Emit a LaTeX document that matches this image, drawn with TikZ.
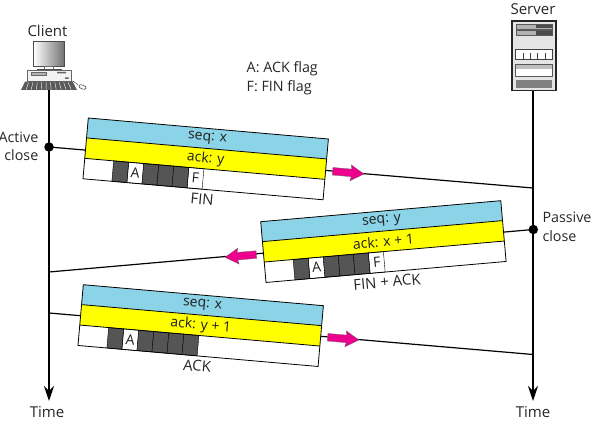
\documentclass[tikz,border=0pt]{standalone}
\usepackage{fontspec}
\setmainfont{Open Sans}
\definecolor{segblue}{HTML}{8BD3E6}
\definecolor{segyellow}{HTML}{FFFF00}
\definecolor{cellgrey}{HTML}{555555}
\definecolor{pinkarrow}{HTML}{EC008C}
\usetikzlibrary{arrows.meta}
\tikzset{
  lbl/.style={inner sep=0pt,font=\fontsize{14.3}{16}\selectfont,text=black!85},
  biglbl/.style={inner sep=0pt,font=\fontsize{15}{17}\selectfont,text=black!85},
  seglbl/.style={inner sep=0pt,font=\fontsize{14}{16}\selectfont,text=black!88,transform shape},
  namelbl/.style={inner sep=0pt,font=\fontsize{15}{17}\selectfont,text=black!85,transform shape},
  conn/.style={line width=1.2pt,black},
  timeline/.style={line width=1.6pt,black,-{Stealth[length=15pt,width=10pt,inset=5pt]}},
  joint/.style={circle,fill=black,inner sep=0pt,minimum size=9.5pt},
  pinkshape/.style={fill=pinkarrow,draw=black!60,line width=.3pt},
}
% x y angle seq ack name cells
\newcommand{\segbox}[7]{%
  \begin{scope}[shift={(#1,#2)},rotate=#3]
    \fill[white] (0,0) rectangle (241,61);
    \fill[segblue] (0,0) rectangle (241,20);
    \fill[segyellow] (0,20) rectangle (241,40.5);
    \foreach \c [count=\i from 0] in {#7}{
      \pgfmathsetmacro{\cx}{29+15.1*\i}
      \if\c g
        \fill[cellgrey] (\cx,40.5) rectangle ++(15.1,20.5);
        \draw[black,line width=.4pt] (\cx,40.5) rectangle ++(15.1,20.5);
      \else
        \draw[black,line width=.4pt] (\cx,40.5) rectangle ++(15.1,20.5);
        \node[seglbl] at (\cx+7.5,50.5) {\c};
      \fi
    }
    \draw[line width=.8pt] (0,0) rectangle (241,61);
    \draw[line width=.8pt] (0,20) -- (241,20) (0,40.5) -- (241,40.5);
    \node[seglbl] at (120.5,10) {#4};
    \node[seglbl] at (120.5,30.5) {#5};
    \node[namelbl] at (120.5,71) {#6};
  \end{scope}}
\newcommand{\pinkarrow}[3]{%
  \begin{scope}[shift={(#1,#2)},rotate=#3]
    \draw[pinkshape] (0,0) -- (-13.5,8) -- (-12.5,3.8) -- (-31.5,3.8) -- (-31.5,-3.8) -- (-12.5,-3.8) -- (-13.5,-8) -- cycle;
  \end{scope}}
\begin{document}
\begin{tikzpicture}[x=1pt,y=-1pt]
\useasboundingbox (0,0) rectangle (603,428);
% client icon
\node[biglbl] (clientlabel) at (47.5,31) {Client};
\begin{scope}
  \draw[black!70,line width=.8pt,left color=white,right color=black!55] (33.5,41.5) rectangle (64,66);
  \draw[black!60,line width=.6pt,fill=white] (44.5,66) rectangle (53.5,69);
  \draw[black!70,line width=.6pt] (37,69) -- (61.5,69);
  \draw[black!60,line width=.6pt,fill=black!5] (27.3,70) rectangle (71.7,81);
  \draw[black!60,line width=.4pt,fill=black!30] (31,72.5) rectangle (46,75.5);
  \fill[black!60] (57,72) rectangle (66,73.5) (65,77.5) rectangle (68.5,79);
  \fill[black!65] (25,81.7) -- (72.7,81.7) -- (77,90) -- (21,90) -- cycle;
  \foreach \k in {0,...,9}{\draw[white,line width=.4pt] (28.5+4.4*\k,82.5) -- (26.2+5*\k,89.5);}
  \draw[black!70,line width=.5pt] (71,81) .. controls (75,81) and (76,84) .. (78,85);
  \draw[black!70,line width=.6pt,fill=white,rotate around={-20:(82.5,87)}] (82.5,87) ellipse (3.8pt and 2pt);
\end{scope}
\coordinate (clienttop) at (49,90);
% server icon
\node[biglbl] (serverlabel) at (533,9) {Server};
\draw[black!85,line width=1.2pt,fill=black!10] (512,21) rectangle (556,90.5);
\draw[black!65,line width=.6pt,fill=black!30] (516,24.3) rectangle (552,29);
\fill[black!70] (536,25) rectangle (551.5,28.5);
\draw[black!65,line width=.6pt,fill=black!30] (516,30.7) rectangle (552,35.3);
\fill[black!70] (536,31.4) rectangle (551.5,34.8);
\draw[black!75,line width=.7pt,fill=white] (515.5,49.5) rectangle (552,59);
\foreach \k in {0,1,2,3}{\draw[black!75,line width=.8pt] (523+7.3*\k,53.5) -- (523+7.3*\k,59);}
\draw[black!65,line width=.7pt,fill=white] (515.5,64.5) rectangle (552,76);
\fill[black!25] (516,65) rectangle (551.5,69.5);
\fill[black!50] (515.5,80) rectangle (552,88);
\coordinate (servertop) at (533,91);
% legend
\node[lbl,anchor=west] (legenda) at (246.5,69) {A: ACK flag};
\node[lbl,anchor=west] (legendf) at (246.5,87.5) {F: FIN flag};
% timelines
\node[biglbl] (timec) at (47,412) {Time};
\node[biglbl] (times) at (533,412) {Time};
\coordinate (clientend) at (49,401);
\coordinate (serverend) at (533,401);
\draw[timeline] (clienttop) -- (clientend);
\draw[timeline] (servertop) -- (serverend);
% joints
\node[joint] (activedot) at (49,147) {};
\node[joint] (passivedot) at (533.3,229.5) {};
\coordinate (fin-end) at (533,188);
\coordinate (finack-end) at (49,272);
\coordinate (ack-start) at (49,313);
\coordinate (ack-end) at (533,354.5);
\draw[conn] (activedot.center) -- (fin-end);
\draw[conn] (passivedot.center) -- (finack-end);
\draw[conn] (ack-start) -- (ack-end);
\node[lbl,anchor=east] (activelbl) at (38.5,137) {Active};
\node[lbl,anchor=east] (activelbl2) at (38.5,155.5) {close};
\node[lbl,anchor=west] (passivelbl) at (542.3,217.5) {Passive};
\node[lbl,anchor=west] (passivelbl2) at (542.3,236) {close};
% segments
\segbox{88.3}{118}{-5}{seq: x}{ack: y}{FIN}{g,A,g,g,g,F}
\segbox{260.7}{221.7}{5}{seq: y}{ack: x + 1}{FIN + ACK}{g,A,g,g,g,F}
\segbox{83.3}{284.7}{-5}{seq: x}{ack: y + 1}{ACK}{g,A,g,g,g,g}
% arrows
\pinkarrow{364}{174}{-5}
\pinkarrow{225}{257.3}{185}
\pinkarrow{359}{340}{-5}
\end{tikzpicture}
\end{document}
